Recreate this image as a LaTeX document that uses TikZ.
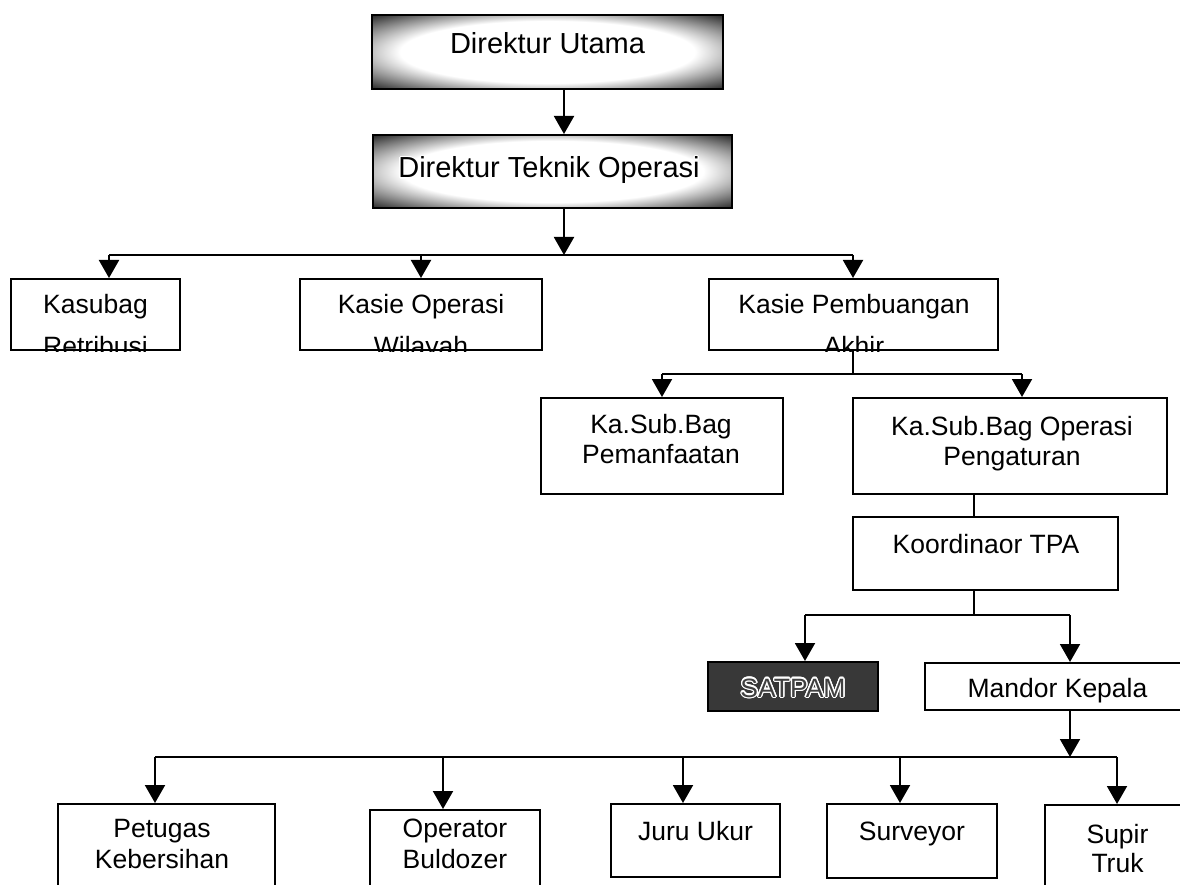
\documentclass[tikz,border=0pt]{standalone}
\usepackage{fontspec}
\setmainfont{Liberation Sans}
\usepackage{contour}
\contourlength{1.3pt}
\usetikzlibrary{arrows.meta}

% light centre fading into a black rim, for the two director boxes
\pgfdeclareradialshading{glow}{\pgfpointorigin}{color(0bp)=(white); color(21bp)=(white); color(36bp)=(black!88); color(50bp)=(black)}

\tikzset{
  box/.style={draw=black, line width=2pt, fill=white, rectangle, inner sep=0pt},
  headbox/.style={draw=black, line width=2pt, shading=glow, rectangle, inner sep=0pt},
  darkbox/.style={draw=black, line width=2pt, fill=black!78, rectangle, inner sep=0pt},
  txt/.style={inner sep=0pt, anchor=base, font=\fontsize{26.5}{31}\selectfont},
  bigtxt/.style={inner sep=0pt, anchor=base, font=\fontsize{29}{34}\selectfont},
  link/.style={line width=2pt},
  arr/.style={line width=2pt, -{Triangle[length=18pt,width=20pt]}},
}

\begin{document}
\begin{tikzpicture}[x=1pt,y=-1pt]
\useasboundingbox (0,0) rectangle (1180,885);
\clip (0,0) rectangle (1180,885);
\fill[white] (0,0) rectangle (1180,885);

% ---- boxes ----
\node[headbox, minimum width=351pt, minimum height=74pt] (dirut) at (547.5,52) {};
\node[bigtxt] (dirut-t) at (547.5,54) {Direktur Utama};

\node[headbox, minimum width=359pt, minimum height=73pt] (dto) at (552.5,171.5) {};
\node[bigtxt] (dto-t) at (549,178) {\contour{white}{Direktur Teknik Operasi}};

\node[box, minimum width=169pt, minimum height=71pt] (kasubag) at (95.5,314.5) {};
\node[txt] (kasubag-a) at (95.5,313) {Kasubag};
\begin{scope}
  \clip (kasubag.south west) rectangle (kasubag.north east);
  \node[txt] (kasubag-b) at (95.5,355) {Retribusi};
\end{scope}

\node[box, minimum width=242pt, minimum height=71pt] (kasieop) at (421,314.5) {};
\node[txt] (kasieop-a) at (421,313) {Kasie Operasi};
\begin{scope}
  \clip (kasieop.south west) rectangle (kasieop.north east);
  \node[txt] (kasieop-b) at (421,355) {Wilayah};
\end{scope}

\node[box, minimum width=289pt, minimum height=71pt] (kasiepa) at (853.5,314.5) {};
\node[txt] (kasiepa-a) at (854,313) {Kasie Pembuangan};
\begin{scope}
  \clip (kasiepa.south west) rectangle (kasiepa.north east);
  \node[txt] (kasiepa-b) at (854,355) {Akhir};
\end{scope}

\node[box, minimum width=242pt, minimum height=96pt] (kspem) at (662,446) {};
\node[txt] (kspem-a) at (661,433) {Ka.Sub.Bag};
\node[txt] (kspem-b) at (661,463) {Pemanfaatan};

\node[box, minimum width=314pt, minimum height=96pt] (ksop) at (1010,446) {};
\node[txt] (ksop-a) at (1012,435) {Ka.Sub.Bag Operasi};
\node[txt] (ksop-b) at (1012,465) {Pengaturan};

\node[box, minimum width=265pt, minimum height=73pt] (koord) at (985.5,553.5) {};
\node[txt] (koord-t) at (986,553) {Koordinaor TPA};

\node[darkbox, minimum width=170pt, minimum height=49pt] (satpam) at (793,686.5) {};
\node[txt] (satpam-t) at (793,697) {\contour{white}{\textcolor{black!75}{SATPAM}}};

\node[box, minimum width=265pt, minimum height=47pt] (mandor) at (1057.5,686.5) {};
\node[txt] (mandor-t) at (1057.5,697) {Mandor Kepala};

\node[box, minimum width=217pt, minimum height=101pt] (petugas) at (166.5,854.5) {};
\node[txt] (petugas-a) at (162,837) {Petugas};
\node[txt] (petugas-b) at (162,868) {Kebersihan};

\node[box, minimum width=170pt, minimum height=95pt] (operator) at (455,857.5) {};
\node[txt] (operator-a) at (455,837) {Operator};
\node[txt] (operator-b) at (455,868) {Buldozer};

\node[box, minimum width=169pt, minimum height=73pt] (juru) at (695.5,840.5) {};
\node[txt] (juru-t) at (695.5,840) {Juru Ukur};

\node[box, minimum width=170pt, minimum height=74pt] (surveyor) at (912,841) {};
\node[txt] (surveyor-t) at (912,840) {Surveyor};

\node[box, minimum width=145pt, minimum height=100pt] (supir) at (1117.5,855) {};
\node[txt] (supir-a) at (1117.5,843) {Supir};
\node[txt] (supir-b) at (1117.5,872) {Truk};

% ---- junction points ----
\coordinate (j1) at (564,255);
\coordinate (bL) at (109,255);
\coordinate (bR) at (853,255);
\coordinate (j2) at (853,374);
\coordinate (c2L) at (662,374);
\coordinate (c2R) at (1022,374);
\coordinate (k1) at (974,0);
\coordinate (j3) at (974,615);
\coordinate (s3L) at (805,615);
\coordinate (s3R) at (1070,615);
\coordinate (j4) at (1070,757);
\coordinate (b4L) at (155,757);
\coordinate (b4R) at (1117,757);
\coordinate (dOp) at (443,757);
\coordinate (dJu) at (683,757);
\coordinate (dSu) at (900,757);

% ---- connectors ----
\draw[arr] (dirut.south -| j1) -- (dto.north -| j1);
\draw[arr] (dto.south -| j1) -- (j1);
\draw[link] (bL) -- (bR);
\draw[arr] (bL) -- (kasubag.north -| bL);
\draw[arr] (j1 -| kasieop) -- (kasieop.north);
\draw[arr] (bR) -- (kasiepa.north -| bR);

\draw[link] (kasiepa.south -| j2) -- (j2);
\draw[link] (c2L) -- (c2R);
\draw[arr] (c2L) -- (kspem.north -| c2L);
\draw[arr] (c2R) -- (ksop.north -| c2R);

\draw[link] (ksop.south -| k1) -- (koord.north -| k1);
\draw[link] (koord.south -| j3) -- (j3);
\draw[link] (s3L) -- (s3R);
\draw[arr] (s3L) -- (satpam.north -| s3L);
\draw[arr] (s3R) -- (mandor.north -| s3R);

\draw[arr] (mandor.south -| j4) -- (j4);
\draw[link] (b4L) -- (b4R);
\draw[arr] (b4L) -- (petugas.north -| b4L);
\draw[arr] (dOp) -- (operator.north -| dOp);
\draw[arr] (dJu) -- (juru.north -| dJu);
\draw[arr] (dSu) -- (surveyor.north -| dSu);
\draw[arr] (b4R) -- (supir.north -| b4R);
\end{tikzpicture}
\end{document}
